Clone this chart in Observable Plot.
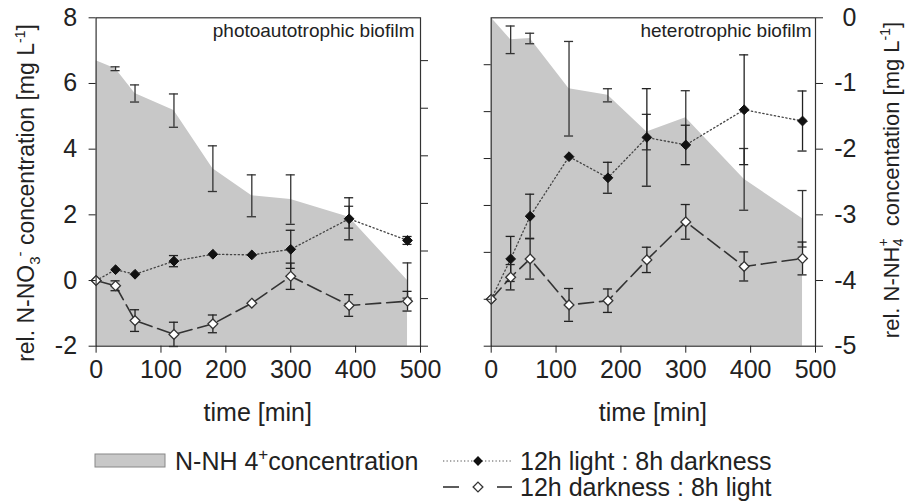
<!DOCTYPE html>
<html><head><meta charset="utf-8">
<script src="https://cdn.jsdelivr.net/npm/d3@7"></script>
<script src="https://cdn.jsdelivr.net/npm/@observablehq/plot@0.6"></script>
<style>
body{margin:0;background:#fff;}
#wrap{position:relative;width:910px;height:501px;overflow:hidden;background:#fff;}
#wrap svg{position:absolute;left:0;top:0;overflow:visible;}
</style></head><body><div id="wrap"></div>
<script>
// ---------- data ----------
const times = [0, 30, 60, 120, 180, 240, 300, 390, 480];
const xTicks = [0, 100, 200, 300, 400, 500];

// photoautotrophic biofilm (left panel)
const photoLightDark    = [0, 0.33, 0.19, 0.59, 0.80, 0.78, 0.95, 1.88, 1.22];
const photoLightDarkErr = [0, 0, 0, 0.17, 0, 0, 0.58, 0.64, 0.12];
const photoDarkLight    = [0, -0.16, -1.22, -1.64, -1.32, -0.69, 0.13, -0.76, -0.63];
const photoDarkLightErr = [0, 0.15, 0.33, 0.37, 0.27, 0, 0.40, 0.33, 0.30];
const photoNH4          = [0, -0.17, -0.69, -1.05, -2.27, -2.84, -2.92, -3.29, -4.62];
const photoNH4Err       = [0, 0.04, 0.18, 0.35, 0.48, 0.44, 0.52, 0.23, 0.37];

// heterotrophic biofilm (right panel)
const heteroLightDark    = [0, 0.86, 1.77, 3.04, 2.59, 3.45, 3.29, 4.04, 3.80];
const heteroLightDarkErr = [0, 0.48, 0.47, 0, 0.33, 1.04, 0.42, 1.17, 0.64];
const heteroDarkLight    = [0, 0.47, 0.86, -0.12, -0.03, 0.84, 1.65, 0.70, 0.87];
const heteroDarkLightErr = [0, 0.27, 0.43, 0.35, 0.25, 0.27, 0.37, 0.31, 0.35];
const heteroNH4          = [0, -0.335, -0.315, -1.08, -1.18, -1.74, -1.52, -2.46, -3.06];
const heteroNH4Err       = [0, 0.21, 0.08, 0.72, 0.10, 0.27, 0.41, 0.47, 0.43];

// axis ticks
const photoNO3Ticks  = [-2, 0, 2, 4, 6, 8];
const photoNH4Ticks  = [-6, -5, -4, -3, -2, -1, 0];
const heteroNO3Ticks = [-1, 0, 1, 2, 3, 4, 5];
const heteroNH4Ticks = [0, -1, -2, -3, -4, -5];

const titles = ["photoautotrophic biofilm", "heterotrophic biofilm"];
const legendLabels = ["N-NH 4", "+", "concentration", "12h light : 8h darkness", "12h darkness : 8h light"];

// ---------- drawing ----------
const FONT = '"Liberation Sans", Arial, Helvetica, sans-serif';
const W = 910, H = 430, TOP = 17.3, BOTTOM = 345.7;
const CAP = 7;            // half width of error caps, in minutes
const GRAY = "#c8c8c8", INK = "#222";
const wrap = document.getElementById("wrap");

function rows(vals, errs) { return times.map((t, i) => ({t, v: vals[i], e: errs[i]})); }

function errMarks(data, color) {
  const d = data.filter(r => r.e > 0);
  const o = {stroke: color, strokeWidth: 1.3};
  return [
    Plot.ruleX(d, {x: "t", y1: r => r.v - r.e, y2: r => r.v + r.e, ...o}),
    Plot.ruleY(d, {y: r => r.v + r.e, x1: r => r.t - CAP, x2: r => r.t + CAP, ...o}),
    Plot.ruleY(d, {y: r => r.v - r.e, x1: r => r.t - CAP, x2: r => r.t + CAP, ...o})
  ];
}

function drawPanel(p) {
  const common = {
    width: W, height: H,
    marginLeft: p.left, marginRight: W - p.right, marginTop: TOP, marginBottom: H - BOTTOM,
    style: {background: "transparent", fontFamily: FONT, fontSize: "25px", color: INK, overflow: "visible"}
  };
  const nh = rows(p.nh, p.nhErr);
  const under = Plot.plot({
    ...common,
    x: {domain: [0, 500], axis: null},
    y: {domain: p.nhDomain},
    marks: [
      Plot.areaY(nh, {x: "t", y1: p.nhDomain[0], y2: "v", fill: GRAY}),
      ...errMarks(nh, "#333"),
      Plot.axisY({anchor: "right", ticks: p.nhTicks, tickSize: 7, tickPadding: p.nhPad,
        textAnchor: "end", tickFormat: p.nhLabels ? (d => String(d)) : (() => ""), label: null})
    ]
  });
  const ld = rows(p.ld, p.ldErr), dl = rows(p.dl, p.dlErr);
  const over = Plot.plot({
    ...common,
    x: {domain: [0, 500]},
    y: {domain: p.no3Domain},
    marks: [
      Plot.line(ld, {x: "t", y: "v", stroke: "#444", strokeWidth: 1.3, strokeDasharray: "1.3,2.6"}),
      Plot.line(dl, {x: "t", y: "v", stroke: "#333", strokeWidth: 1.6, strokeDasharray: "15,6"}),
      ...errMarks(ld, INK),
      ...errMarks(dl, INK),
      Plot.dot(ld, {x: "t", y: "v", symbol: "diamond2", r: 4.4, fill: "#111", stroke: "#111", strokeWidth: 1}),
      Plot.dot(dl, {x: "t", y: "v", symbol: "diamond2", r: 4.4, fill: "white", stroke: "#333", strokeWidth: 1.3}),
      Plot.frame({stroke: "#333", strokeWidth: 1.2}),
      Plot.axisX({ticks: xTicks, tickSize: 7, tickPadding: 7, tickFormat: d => String(d), label: null}),
      Plot.axisY({anchor: "left", ticks: p.no3Ticks, tickSize: 7, tickPadding: 12,
        tickFormat: p.no3Labels ? (d => String(d)) : (() => ""), label: null}),
      Plot.text([p.title], {frameAnchor: "top-right", dx: p.titleDx, dy: 6, lineAnchor: "top",
        textAnchor: "end", fontSize: 19, fill: INK})
    ]
  });
  wrap.appendChild(under);
  wrap.appendChild(over);
}

drawPanel({
  left: 95.6, right: 420,
  nh: photoNH4, nhErr: photoNH4Err, nhDomain: [-6, 0.9], nhTicks: photoNH4Ticks, nhLabels: false, nhPad: 3,
  ld: photoLightDark, ldErr: photoLightDarkErr, dl: photoDarkLight, dlErr: photoDarkLightErr,
  no3Domain: [-2, 8], no3Ticks: photoNO3Ticks, no3Labels: true,
  title: titles[0], titleDx: -6
});
drawPanel({
  left: 490.7, right: 815,
  nh: heteroNH4, nhErr: heteroNH4Err, nhDomain: [-5, 0], nhTicks: heteroNH4Ticks, nhLabels: true, nhPad: 34,
  ld: heteroLightDark, ldErr: heteroLightDarkErr, dl: heteroDarkLight, dlErr: heteroDarkLightErr,
  no3Domain: [-1, 6], no3Ticks: heteroNO3Ticks, no3Labels: false,
  title: titles[1], titleDx: -4
});

// ---------- titles & legend ----------
const svg = d3.select(wrap).append("svg").attr("width", 910).attr("height", 501)
  .style("font-family", FONT).style("fill", INK);

// x axis titles
[257.8, 652.9].forEach(cx => svg.append("text").attr("x", cx).attr("y", 421)
  .attr("text-anchor", "middle").attr("font-size", 25).text("time [min]"));

// left y title
const yl = svg.append("text").attr("transform", "translate(34,193) rotate(-90)")
  .attr("text-anchor", "middle").attr("font-size", 23);
yl.append("tspan").text("rel. N-NO");
yl.append("tspan").attr("font-size", 15).attr("dy", 6).text("3");
yl.append("tspan").attr("font-size", 15).attr("dy", -15).text("-");
yl.append("tspan").attr("dy", 9).text(" concentration [mg L");
yl.append("tspan").attr("font-size", 14).attr("dy", -9).text("-1");
yl.append("tspan").attr("dy", 9).text("]");

// right y title
const yr = svg.append("text").attr("transform", "translate(899,180) rotate(-90)")
  .attr("text-anchor", "middle").attr("font-size", 22);
yr.append("tspan").text("rel. N-NH");
yr.append("tspan").attr("font-size", 14).attr("dy", -11).text("+");
yr.append("tspan").attr("font-size", 14).attr("dx", -8).attr("dy", 15).text("4");
yr.append("tspan").attr("dy", -4).text("\u00a0\u00a0concentation [mg L");
yr.append("tspan").attr("font-size", 14).attr("dy", -9).text("-1");
yr.append("tspan").attr("dy", 9).text("]");

// legend
svg.append("rect").attr("x", 95).attr("y", 454).attr("width", 70).attr("height", 13)
  .attr("fill", GRAY).attr("stroke", "#888").attr("stroke-width", 1);
const l1 = svg.append("text").attr("x", 175).attr("y", 470).attr("font-size", 25);
l1.append("tspan").text(legendLabels[0]);
l1.append("tspan").attr("font-size", 17).attr("dy", -10).text(legendLabels[1]);
l1.append("tspan").attr("dy", 10).text(legendLabels[2]);

svg.append("line").attr("x1", 443).attr("x2", 512).attr("y1", 461).attr("y2", 461)
  .attr("stroke", "#555").attr("stroke-width", 1.2).attr("stroke-dasharray", "1.3,2.2");
const dia = d3.symbol(d3.symbolDiamond2, Math.PI * 4.4 * 4.4);
svg.append("path").attr("d", dia()).attr("transform", "translate(478,461)").attr("fill", "#111");
svg.append("text").attr("x", 520).attr("y", 470).attr("font-size", 25).text(legendLabels[3]);

[[443, 459], [497, 512]].forEach(([a, b]) => svg.append("line").attr("x1", a).attr("x2", b)
  .attr("y1", 487).attr("y2", 487).attr("stroke", "#333").attr("stroke-width", 1.6));
svg.append("path").attr("d", dia()).attr("transform", "translate(478,487)")
  .attr("fill", "white").attr("stroke", "#333").attr("stroke-width", 1.3);
svg.append("text").attr("x", 520).attr("y", 496).attr("font-size", 25).text(legendLabels[4]);
</script></body></html>
